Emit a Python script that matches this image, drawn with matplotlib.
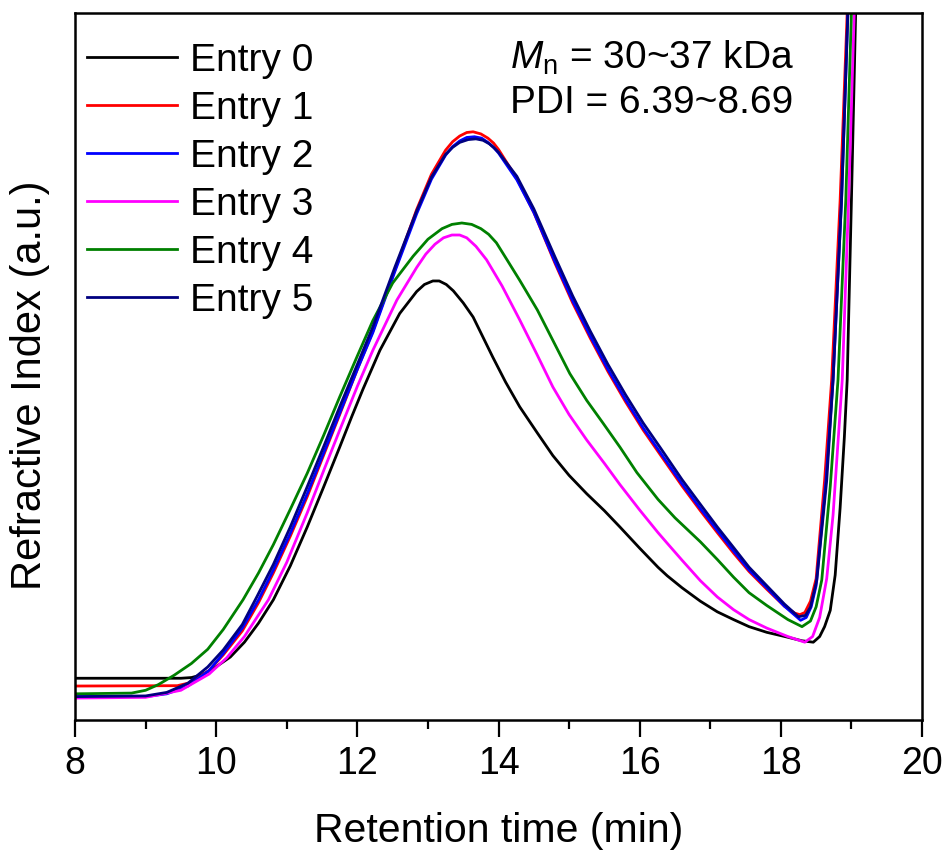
import matplotlib
matplotlib.use("Agg")
import matplotlib.pyplot as plt
from matplotlib.ticker import MultipleLocator

plt.rcParams['font.family'] = ['Liberation Sans', 'DejaVu Sans']
plt.rcParams['mathtext.fontset'] = 'custom'
plt.rcParams['mathtext.rm'] = 'Liberation Sans'
plt.rcParams['mathtext.it'] = 'Liberation Sans:italic'

# retention time (min) and RI signal (a.u., 0-100 of the plot height)
x0 = [8.0, 9.5, 9.65, 9.8, 9.98, 10.2, 10.4, 10.6, 10.81, 11.05, 11.29, 11.52, 11.75, 11.92, 12.08, 12.32,
      12.6, 12.84, 12.95, 13.07, 13.16, 13.26, 13.36, 13.5, 13.64, 13.92, 14.1, 14.3, 14.55, 14.77, 15.0,
      15.25, 15.5, 15.72, 16.0, 16.26, 16.39, 16.6, 16.86, 17.1, 17.33, 17.55, 17.8, 18.1, 18.3, 18.46,
      18.55, 18.62, 18.7, 18.77, 18.84, 18.9, 18.94, 19.0, 19.06, 19.08]
y0 = [5.9, 5.9, 6.0, 6.4, 7.4, 8.9, 11.0, 13.7, 17.0, 21.8, 27.3, 32.9, 38.6, 42.9, 46.8, 52.3,
      57.5, 60.6, 61.6, 62.1, 62.1, 61.6, 60.7, 59.0, 57.0, 51.3, 47.8, 44.3, 40.6, 37.4, 34.6,
      32.0, 29.6, 27.3, 24.3, 21.6, 20.4, 18.7, 16.8, 15.3, 14.2, 13.2, 12.4, 11.7, 11.2, 11.0,
      11.8, 13.2, 15.5, 20.5, 30.0, 40.0, 48.1, 73.5, 100.0, 108.0]

x1 = [8.0, 9.45, 9.6, 9.75, 9.9, 10.1, 10.37, 10.6, 10.81, 11.05, 11.29, 11.52, 11.75, 12.0, 12.22, 12.53,
      12.84, 13.05, 13.25, 13.35, 13.45, 13.55, 13.64, 13.75, 13.85, 13.93, 14.0, 14.26, 14.5, 14.8, 15.05,
      15.3, 15.55, 15.8, 16.05, 16.3, 16.6, 16.86, 17.1, 17.33, 17.55, 17.8, 18.05, 18.2, 18.27, 18.34,
      18.42, 18.5, 18.62, 18.72, 18.84, 18.94, 18.96]
y1 = [4.8, 4.85, 5.2, 6.0, 7.0, 9.2, 12.6, 16.6, 20.8, 26.0, 31.6, 37.4, 43.2, 49.6, 55.0, 63.6,
      72.2, 77.2, 80.6, 81.8, 82.6, 83.1, 83.2, 82.9, 82.3, 81.6, 80.7, 76.6, 71.8, 64.6, 59.0,
      54.0, 49.3, 45.0, 41.0, 37.4, 33.1, 29.6, 26.5, 23.6, 21.0, 18.5, 16.1, 15.1, 14.9, 15.2,
      16.8, 20.0, 33.9, 48.1, 73.5, 100.0, 105.0]

x2 = [8.0, 9.0, 9.3, 9.6, 9.9, 10.1, 10.37, 10.6, 10.81, 11.05, 11.29, 11.52, 11.75, 12.0, 12.22, 12.53,
      12.84, 13.05, 13.25, 13.35, 13.45, 13.55, 13.66, 13.76, 13.85, 13.93, 14.0, 14.26, 14.5, 14.8, 15.05,
      15.3, 15.55, 15.8, 16.05, 16.3, 16.6, 16.86, 17.1, 17.33, 17.55, 17.8, 18.05, 18.2, 18.28, 18.36,
      18.43, 18.5, 18.64, 18.74, 18.86, 18.95, 18.97]
y2 = [3.3, 3.3, 3.7, 4.8, 7.0, 9.4, 13.0, 17.0, 21.2, 26.4, 32.0, 37.7, 43.4, 49.6, 54.8, 63.4,
      71.6, 76.5, 79.9, 81.1, 81.9, 82.4, 82.5, 82.3, 81.7, 81.0, 80.2, 76.4, 71.8, 64.8, 59.3,
      54.3, 49.6, 45.3, 41.3, 37.7, 33.4, 29.9, 26.8, 23.9, 21.2, 18.7, 16.1, 14.8, 14.1, 14.5,
      16.0, 19.0, 33.9, 48.1, 73.5, 100.0, 105.0]

x3 = [8.0, 9.0, 9.5, 9.9, 10.15, 10.4, 10.74, 11.0, 11.29, 11.52, 11.75, 12.0, 12.22, 12.56, 12.84, 12.97,
      13.1, 13.22, 13.34, 13.45, 13.55, 13.68, 13.83, 14.05, 14.3, 14.55, 14.77, 15.0, 15.25, 15.5, 15.72,
      16.0, 16.26, 16.39, 16.6, 16.86, 17.1, 17.33, 17.55, 17.8, 18.1, 18.34, 18.45, 18.55, 18.65, 18.74,
      18.87, 18.96, 19.04, 19.06]
y3 = [3.1, 3.2, 4.2, 6.5, 8.8, 11.8, 17.0, 22.3, 29.3, 35.2, 41.0, 47.2, 52.3, 59.4, 64.0, 65.9,
      67.3, 68.2, 68.6, 68.6, 68.2, 67.0, 65.1, 61.4, 56.6, 51.6, 47.1, 43.2, 39.6, 36.3, 33.3,
      29.7, 26.5, 25.0, 22.6, 19.7, 17.4, 15.6, 14.2, 13.0, 11.8, 11.0, 11.8, 14.5, 20.0, 29.0,
      48.1, 73.5, 100.0, 106.0]

x4 = [8.0, 8.8, 9.0, 9.18, 9.4, 9.65, 9.88, 10.1, 10.38, 10.6, 10.81, 11.05, 11.29, 11.52, 11.75, 12.0,
      12.22, 12.5, 12.79, 13.0, 13.2, 13.34, 13.48, 13.62, 13.75, 13.86, 13.97, 14.12, 14.3, 14.55, 14.78,
      15.01, 15.25, 15.48, 15.72, 15.96, 16.26, 16.5, 16.86, 17.1, 17.33, 17.55, 17.8, 18.1, 18.3, 18.42,
      18.5, 18.58, 18.7, 18.81, 18.92, 19.0, 19.02]
y4 = [3.7, 3.8, 4.2, 5.0, 6.3, 8.0, 10.0, 12.8, 17.0, 20.8, 24.8, 29.8, 34.9, 40.2, 45.7, 51.5,
      56.5, 61.8, 65.6, 68.0, 69.5, 70.1, 70.3, 70.1, 69.5, 68.7, 67.5, 65.1, 62.2, 58.0, 53.5,
      49.0, 45.2, 42.0, 38.6, 35.0, 31.2, 28.6, 25.2, 22.7, 20.2, 18.0, 16.2, 14.2, 13.2, 14.0,
      16.0, 19.8, 33.0, 48.1, 73.5, 100.0, 106.0]

x5 = [8.0, 9.0, 9.3, 9.6, 9.88, 10.1, 10.37, 10.58, 10.81, 11.05, 11.29, 11.52, 11.75, 12.0, 12.22, 12.53,
      12.84, 13.05, 13.25, 13.35, 13.45, 13.57, 13.68, 13.78, 13.87, 13.94, 14.0, 14.26, 14.5, 14.8, 15.05,
      15.3, 15.55, 15.8, 16.05, 16.3, 16.6, 16.86, 17.1, 17.33, 17.55, 17.8, 18.05, 18.25, 18.35, 18.42,
      18.51, 18.65, 18.74, 18.86, 18.95, 18.97]
y5 = [3.3, 3.4, 3.9, 5.2, 7.5, 9.9, 13.5, 17.5, 22.0, 27.3, 33.0, 38.6, 44.3, 50.3, 55.6, 64.0,
      72.0, 76.8, 80.0, 81.0, 81.7, 82.1, 82.2, 82.0, 81.5, 80.9, 80.3, 76.9, 72.3, 65.5, 60.0,
      55.0, 50.3, 46.0, 42.0, 38.4, 34.0, 30.5, 27.3, 24.4, 21.6, 19.0, 16.4, 14.6, 14.8, 16.0,
      19.8, 33.9, 48.1, 73.5, 100.0, 105.0]

labels = ["Entry 0", "Entry 1", "Entry 2", "Entry 3", "Entry 4", "Entry 5"]
colors = ["black", "#ff0000", "#0000ff", "#ff00ff", "#008000", "#000080"]

fig = plt.figure(figsize=(9.51, 8.57), dpi=100)
ax = fig.add_axes([0.0789, 0.1599, 0.8906, 0.8249])

xs = [x0, x1, x2, x3, x4, x5]
ys = [y0, y1, y2, y3, y4, y5]
for i in range(6):
    ax.plot(xs[i], ys[i], color=colors[i], lw=2.0, label=labels[i], solid_joinstyle='round')

ax.set_xlim(8, 20)
ax.set_ylim(0, 100)
ax.xaxis.set_major_locator(MultipleLocator(2))
ax.xaxis.set_minor_locator(MultipleLocator(1))
ax.set_yticks([])
ax.tick_params(axis='x', which='major', direction='out', length=12, width=1.6, labelsize=27, pad=7)
ax.tick_params(axis='x', which='minor', direction='out', length=6.5, width=1.6)
for s in ax.spines.values():
    s.set_linewidth(1.8)

ax.set_xlabel("Retention time (min)", fontsize=29.5, labelpad=21)
ax.set_ylabel("Refractive Index (a.u.)", fontsize=30, labelpad=15)
ax.yaxis.set_label_coords(-0.0295, 0.474)

leg = ax.legend(loc='upper left', fontsize=28, frameon=False, handlelength=2.31, handletextpad=0.33,
                labelspacing=0.31, borderaxespad=0, borderpad=0, bbox_to_anchor=(0.014, 0.958))
for h in leg.get_lines():
    h.set_linewidth(2.0)

ax.text(0.5136, 0.937, r"$\mathit{M}_\mathrm{n}$ = 30~37 kDa", transform=ax.transAxes, fontsize=28,
        ha='left', va='center')
ax.text(0.5136, 0.873, "PDI = 6.39~8.69", transform=ax.transAxes, fontsize=28, ha='left', va='center')

fig.savefig("out.png", dpi=100)
